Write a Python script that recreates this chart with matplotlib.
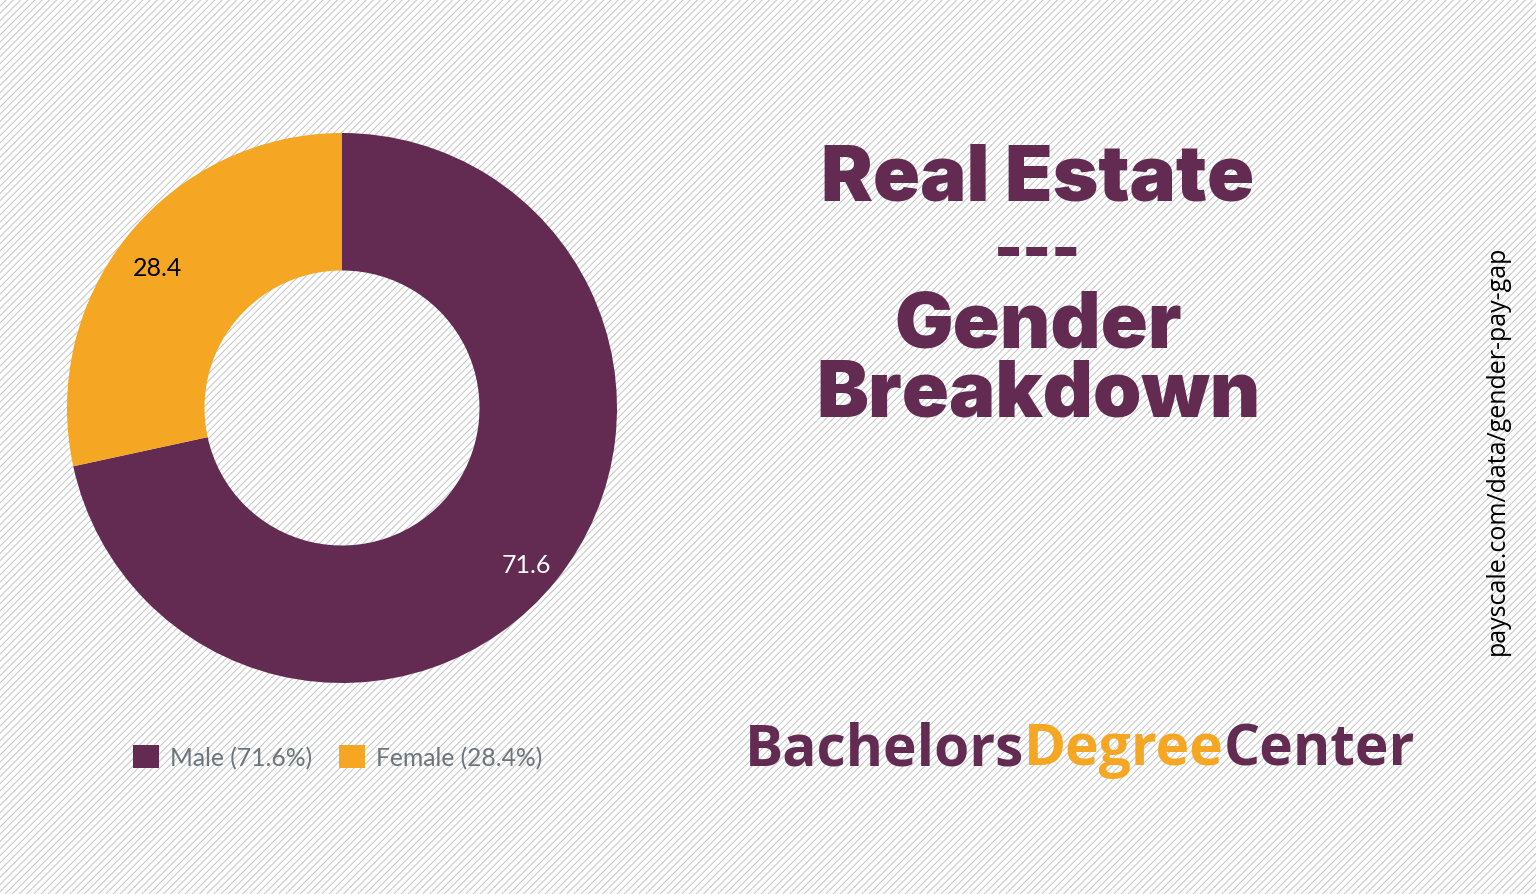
import numpy as np
from matplotlib import pyplot as plt

labels = ['Male', 'Female']
values = [71.6, 28.4]
colors = ['#632b52', '#f5a623']
label_colors = ['white', 'black']

title_lines = ['Real Estate', '---', 'Gender', 'Breakdown']
title_sizes = [56, 44, 56, 56]
source = 'payscale.com/data/gender-pay-gap'

W, H = 1536, 895
fig = plt.figure(figsize=(W / 100, H / 100), dpi=100)
fig.patch.set_facecolor('white')
renderer = fig.canvas.get_renderer()

# hatched background
bg = fig.add_axes([0, 0, 1, 1])
bg.set_xlim(0, W)
bg.set_ylim(H, 0)
bg.axis('off')
step = 7.2
for c in np.arange(0, W + H, step):
    bg.plot([c - H, c], [H, 0], color='#c4c4c4', lw=0.7, zorder=0)

# donut
cx, cy, r = 342, 409, 275
ax = fig.add_axes([(cx - r) / W, (H - cy - r) / H, 2 * r / W, 2 * r / H])
wedges, _, autotexts = ax.pie(values, colors=colors, startangle=90, counterclock=False,
                              radius=1, wedgeprops=dict(width=0.5, linewidth=0),
                              autopct='%.1f', pctdistance=0.86,
                              textprops=dict(fontsize=18, family='Lato'))
for t, c in zip(autotexts, label_colors):
    t.set_color(c)
    px, py = t.get_position()
    t.set_position((px, py - 0.03))
ax.set_xlim(-1, 1)
ax.set_ylim(-1, 1)
ax.set_aspect('equal')

leg_labels = ['%s (%.1f%%)' % (l, v) for l, v in zip(labels, values)]
leg = fig.legend(wedges, leg_labels, loc='center left', bbox_to_anchor=(111 / W, 1 - 758 / H),
                 ncol=2, frameon=False, handlelength=1.07, handleheight=1.07,
                 handletextpad=0.42, columnspacing=1.1,
                 prop=dict(family='Lato', size=17.7))
for t in leg.get_texts():
    t.set_color('#6c757d')

# title
ys = [180, 253, 327, 396]
for line, y, s in zip(title_lines, ys, title_sizes):
    bg.text(1038, y, line, ha='center', va='center', fontsize=s, fontweight='black',
            family='Inter', color='#632b52')

# brand, sized to the reference width
brand = [('Bachelors', '#632b52'), ('Degree', '#f5a623'), ('Center', '#632b52')]
size = 46
probe = bg.text(0, 0, ''.join(w for w, _ in brand), fontsize=size, fontweight='bold',
                family='Open Sans')
size = size * 670 / probe.get_window_extent(renderer=renderer).width
probe.remove()
x = 745
for word, c in brand:
    t = bg.text(x, 750, word, ha='left', va='center', fontsize=size, fontweight='bold',
                family='Open Sans', color=c)
    x += t.get_window_extent(renderer=renderer).width

bg.text(1497, 450, source, rotation=90, ha='center', va='center', fontsize=18,
        family='Open Sans', color='black')

fig.savefig('out.png', dpi=100)
